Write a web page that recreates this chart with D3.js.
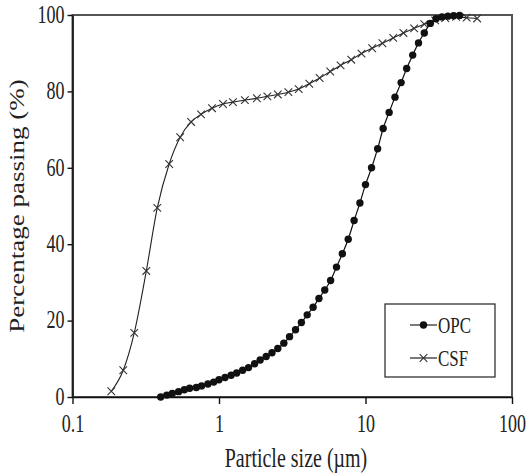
<!DOCTYPE html>
<html lang="en">
<head>
<meta charset="UTF-8">
<title>Particle size distribution</title>
<script src="https://cdn.jsdelivr.net/npm/d3@7/dist/d3.min.js"></script>
<style>
  body { margin: 0; background: #fff; }
  svg text { font-family: "Liberation Serif", "Times New Roman", serif; fill: #222; }
</style>
</head>
<body>
<svg width="526" height="475"></svg>
<script>
// particle sizes (um) and cumulative % passing
var opcSize = [0.40, 0.44, 0.48, 0.53, 0.58, 0.63, 0.70, 0.76, 0.84, 0.92,
               1.00, 1.10, 1.21, 1.32, 1.45, 1.59, 1.75, 1.91, 2.10, 2.30,
               2.52, 2.77, 3.03, 3.33, 3.65, 4.00, 4.39, 4.81, 5.27, 5.78,
               6.34, 6.95, 7.62, 8.36, 9.16, 10.0, 11.0, 12.1, 13.2, 14.5,
               15.9, 17.5, 19.1, 21.0, 23.0, 25.2, 27.7, 30.3, 33.3, 36.5,
               40.0, 43.9];
var opcPass = [0, 0.5, 0.9, 1.4, 1.9, 2.3, 2.5, 2.9, 3.4, 3.9,
               4.5, 5.1, 5.7, 6.3, 7.0, 7.7, 8.7, 9.7, 10.6, 11.6,
               12.7, 14.1, 15.8, 17.6, 19.5, 21.5, 23.5, 25.8, 28.0, 30.5,
               34.0, 37.5, 41.3, 46.2, 50.8, 55.6, 60.0, 65.0, 70.3, 74.5,
               78.5, 82.3, 86.0, 89.5, 92.7, 95.3, 97.8, 99.0, 99.5, 99.7,
               99.8, 99.9];

var csfSize = [0.184, 0.222, 0.264, 0.319, 0.379, 0.457, 0.543, 0.645, 0.754, 0.896,
               1.065, 1.245, 1.502, 1.814, 2.138, 2.520, 2.975, 3.501, 4.134, 4.865,
               5.743, 6.760, 7.992, 9.394, 11.11, 13.05, 15.46, 18.14, 21.48, 25.20,
               29.89, 35.01, 41.59, 49.04, 57.81];
var csfPass = [1.5, 7, 16.8, 33, 49.5, 61, 68, 72, 74, 75.6,
               76.7, 77.2, 77.7, 78.2, 78.7, 79.2, 79.8, 80.6, 82, 83.5,
               85.2, 86.8, 88.3, 89.9, 91.3, 92.6, 94, 95.3, 96.5, 97.6,
               98.6, 99.2, 99.5, 99.3, 99.1];

var xTicks = [0.1, 1, 10, 100];
var xTickLabels = ["0.1", "1", "10", "100"];
var yTicks = [0, 20, 40, 60, 80, 100];
var seriesNames = ["OPC", "CSF"];

var svg = d3.select("svg");
var stretch = 1.35; // the picture's lettering is tall and narrow

var x = d3.scaleLog().domain([0.1, 100]).range([72.5, 512]);
var y = d3.scaleLinear().domain([0, 100]).range([397, 15]);

// frame
svg.append("rect")
    .attr("x", x(0.1)).attr("y", y(100))
    .attr("width", x(100) - x(0.1)).attr("height", y(0) - y(100))
    .attr("fill", "none").attr("stroke", "#555").attr("stroke-width", 2);

// axes
var xAxis = svg.append("g")
    .attr("transform", "translate(0," + y(0) + ")")
    .call(d3.axisBottom(x).tickValues(xTicks).tickSizeInner(7).tickSizeOuter(0)
        .tickFormat(function(d, i) { return xTickLabels[i]; }));
xAxis.selectAll("text")
    .attr("y", 0).attr("dy", 0)
    .attr("transform", "translate(0,35) scale(1," + stretch + ")")
    .style("font-size", "18px");

var yAxis = svg.append("g")
    .attr("transform", "translate(" + x(0.1) + ",0)")
    .call(d3.axisLeft(y).tickValues(yTicks).tickSizeInner(5).tickSizeOuter(0));
yAxis.selectAll("text")
    .attr("x", -8).attr("dy", "0.3em")
    .attr("transform", "scale(1," + stretch + ")")
    .style("font-size", "18px");

[xAxis, yAxis].forEach(function(a) {
    a.select(".domain").attr("stroke", "#111").attr("stroke-width", 1.6);
    a.selectAll(".tick line").attr("stroke", "#111").attr("stroke-width", 1.4);
    a.selectAll("text").attr("fill", "#222").style("font-family", "Liberation Serif");
});

// axis titles
svg.append("text")
    .attr("transform", "translate(296,467) scale(1," + stretch + ")")
    .attr("text-anchor", "middle")
    .style("font-size", "20px")
    .text("Particle size (\u00b5m)");

svg.append("text")
    .attr("transform", "translate(24,206) rotate(-90) scale(" + stretch + ",1)")
    .attr("text-anchor", "middle")
    .style("font-size", "20px")
    .text("Percentage passing (%)");

var line = d3.line()
    .x(function(d) { return x(d[0]); })
    .y(function(d) { return y(d[1]); })
    .curve(d3.curveMonotoneX);

var opc = opcSize.map(function(s, i) { return [s, opcPass[i]]; });
var csf = csfSize.map(function(s, i) { return [s, csfPass[i]]; });

function cross(g, cx, cy) {
    var r = 3.8;
    g.append("path")
        .attr("d", "M" + (cx - r) + "," + (cy - r) + "L" + (cx + r) + "," + (cy + r) +
                   "M" + (cx - r) + "," + (cy + r) + "L" + (cx + r) + "," + (cy - r))
        .attr("stroke", "#333").attr("stroke-width", 1.1);
}

// CSF
svg.append("path").datum(csf)
    .attr("d", line).attr("fill", "none")
    .attr("stroke", "#222").attr("stroke-width", 1.1);
var csfG = svg.append("g");
csf.forEach(function(d) { cross(csfG, x(d[0]), y(d[1])); });

// OPC
svg.append("path").datum(opc)
    .attr("d", line).attr("fill", "none")
    .attr("stroke", "#111").attr("stroke-width", 1.2);
svg.append("g").selectAll("circle")
    .data(opc)
    .enter().append("circle")
    .attr("cx", function(d) { return x(d[0]); })
    .attr("cy", function(d) { return y(d[1]); })
    .attr("r", 3.7)
    .attr("fill", "#111");

// legend
var lg = svg.append("g");
lg.append("rect")
    .attr("x", 385).attr("y", 304).attr("width", 110).attr("height", 73)
    .attr("fill", "#fff").attr("stroke", "#222").attr("stroke-width", 1.2);
var rows = [325, 358];
seriesNames.forEach(function(name, i) {
    var ly = rows[i];
    lg.append("line")
        .attr("x1", 410).attr("x2", 437).attr("y1", ly).attr("y2", ly)
        .attr("stroke", "#222").attr("stroke-width", 1.2);
    if (i === 0) {
        lg.append("circle").attr("cx", 423.5).attr("cy", ly).attr("r", 3.7).attr("fill", "#111");
    } else {
        cross(lg, 423.5, ly);
    }
    lg.append("text")
        .attr("transform", "translate(438," + (ly + 7.5) + ") scale(1," + stretch + ")")
        .style("font-size", "17px")
        .text(name);
});
</script>
</body>
</html>
